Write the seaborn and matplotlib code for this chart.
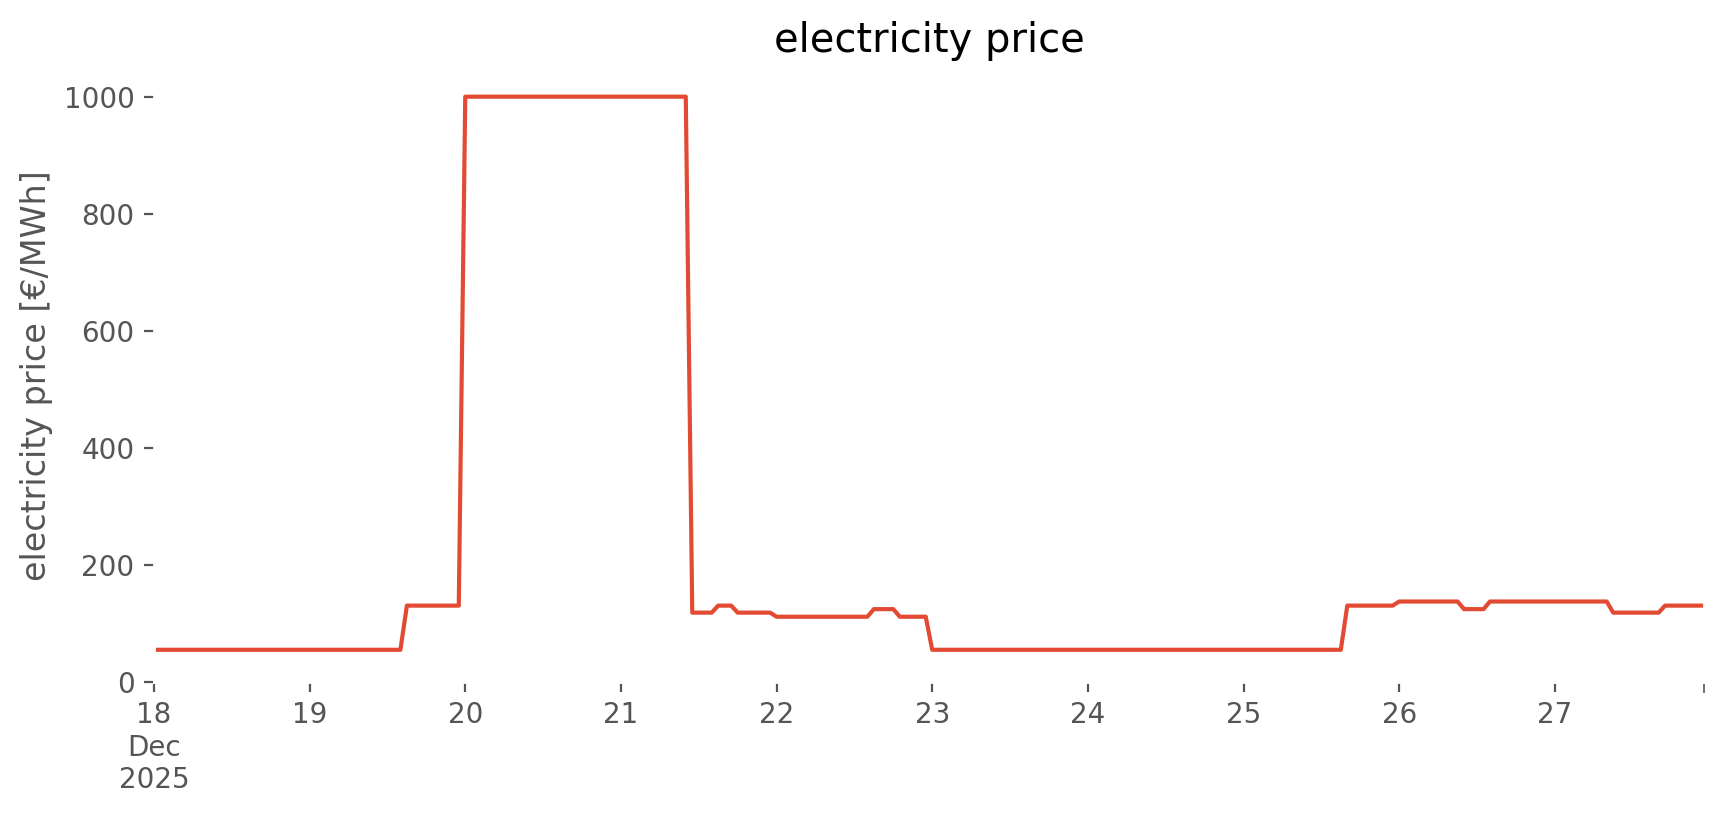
import numpy as np
import pandas as pd
import matplotlib
matplotlib.use("Agg")
import matplotlib.pyplot as plt
import matplotlib.dates as mdates
import matplotlib.ticker as mticker
import seaborn as sns

# hourly price, stored as constant-price runs (level, number of hours)
price_levels = [54.5, 130, 1000, 118, 130, 118, 111, 124, 111, 54.5, 130, 137, 124, 137, 118, 130]
hours_at_level = [39, 9, 35, 4, 3, 6, 15, 4, 5, 64, 8, 10, 4, 19, 8, 7]
start_time = "2025-12-18 00:00"
day_labels = ["18\nDec\n2025", "19", "20", "21", "22", "23", "24", "25", "26", "27"]

price = np.repeat(price_levels, hours_at_level)
times = pd.date_range(start_time, periods=len(price), freq="h")
df = pd.DataFrame({"time": times, "price": price})

plt.style.use("ggplot")
fig, ax = plt.subplots(figsize=(8.62, 4.075), dpi=200)
fig.subplots_adjust(left=0.0893, right=0.9884, bottom=0.1636, top=0.9153)
ax.set_facecolor("white")
ax.grid(False)

sns.lineplot(data=df, x="time", y="price", ax=ax, color="#E24A33", linewidth=1.5)

ax.set_xlim(times[0], times[-1])
ax.set_ylim(bottom=0)

day_ticks = pd.date_range(start_time, periods=len(day_labels), freq="D")
ax.xaxis.set_major_locator(mticker.FixedLocator(mdates.date2num(day_ticks)))
ax.xaxis.set_major_formatter(mticker.FixedFormatter(day_labels))
ax.xaxis.set_minor_locator(mticker.FixedLocator([mdates.date2num(times[-1])]))
ax.tick_params(axis="x", which="minor", length=4, color="#555555")
plt.setp(ax.get_xticklabels(), rotation=0, ha="center")

ax.set_xlabel("")
ax.set_ylabel("electricity price [€/MWh]")
ax.set_title("electricity price", color="black")

fig.savefig("out.png", dpi=200)
